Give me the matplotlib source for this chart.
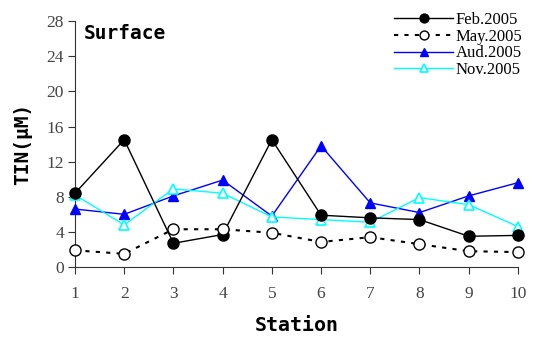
import matplotlib
matplotlib.use("Agg")
import matplotlib.pyplot as plt

stations = [1, 2, 3, 4, 5, 6, 7, 8, 9, 10]
feb = [8.4, 14.5, 2.7, 3.7, 14.5, 5.9, 5.6, 5.4, 3.5, 3.6]
may = [1.9, 1.5, 4.3, 4.3, 3.9, 2.85, 3.4, 2.6, 1.8, 1.7]
aud = [6.6, 6.0, 8.1, 9.9, 5.8, 13.8, 7.3, 6.2, 8.1, 9.6]
nov = [8.2, 4.8, 8.9, 8.4, 5.7, 5.4, 5.1, 7.9, 7.1, 4.6]
yticks = [0, 4, 8, 12, 16, 20, 24, 28]

plt.rcParams['font.family'] = ['Liberation Serif', 'DejaVu Serif']

fig = plt.figure(figsize=(5.33, 3.41), dpi=100)
ax = fig.add_axes([0.1407, 0.217, 0.831, 0.721])

ax.plot(stations, feb, color='black', lw=1, marker='o', ms=8,
        mfc='black', mec='black', label='Feb.2005', clip_on=False, zorder=4)
ax.plot(stations, may, color='black', lw=1.5, ls=(0, (2, 3)), marker='o', ms=8,
        mfc='white', mec='black', mew=1, label='May.2005', clip_on=False, zorder=5)
ax.plot(stations, aud, color='blue', lw=1, marker='^', ms=6.5,
        mfc='blue', mec='blue', label='Aud.2005', clip_on=False, zorder=3)
ax.plot(stations, nov, color='cyan', lw=1, marker='^', ms=6.5,
        mfc='white', mec='cyan', mew=1.2, label='Nov.2005', clip_on=False, zorder=3)

ax.set_xlim(1, 10)
ax.set_ylim(0, 28)
ax.set_xticks(stations)
ax.set_yticks(yticks)
ax.spines['top'].set_visible(False)
ax.spines['right'].set_visible(False)
ax.spines['left'].set_color('#333333')
ax.spines['bottom'].set_color('#333333')
ax.tick_params(direction='out', length=5, labelsize=12.5, colors='#333333', pad=9)
ax.tick_params(axis='y', pad=3)
for lab in ax.get_xticklabels() + ax.get_yticklabels():
    lab.set_color('#444444')

ax.set_xlabel('Station', fontsize=14.3, fontweight='bold',
              family='DejaVu Sans Mono', labelpad=10)
ax.set_ylabel('TIN(μM)', fontsize=14, fontweight='bold',
              family='DejaVu Sans Mono', labelpad=10)
ax.text(0.02, 0.99, 'Surface', transform=ax.transAxes, fontsize=14,
        fontweight='bold', family='DejaVu Sans Mono', va='top', ha='left')

ax.legend(loc='upper right', bbox_to_anchor=(1.026, 1.065), frameon=False,
          fontsize=12, handlelength=3.5, handletextpad=0.2, labelspacing=0.05,
          borderaxespad=0, markerscale=0.8)

fig.savefig('out.png', dpi=100)
